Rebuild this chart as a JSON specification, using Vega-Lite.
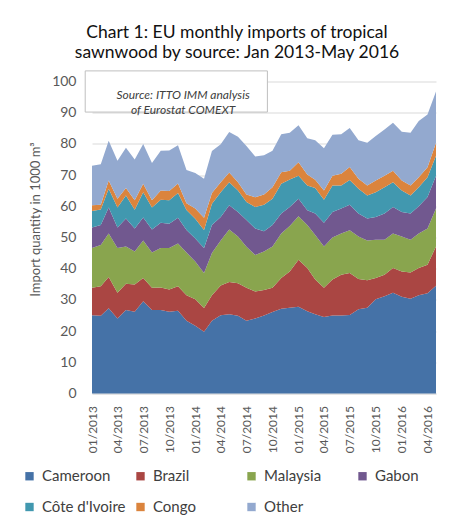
{
  "$schema": "https://vega.github.io/schema/vega-lite/v6.json",
  "width": 344,
  "height": 312,
  "autosize": {"type": "none"},
  "padding": {"left": 92, "top": 81.5, "right": 21, "bottom": 131.5},
  "background": "white",
  "title": {
    "text": ["Chart 1: EU monthly imports of tropical", "sawnwood by source: Jan 2013-May 2016"],
    "font": "Lato",
    "fontSize": 17.5,
    "fontWeight": "normal",
    "color": "#111111",
    "anchor": "middle",
    "dx": -27,
    "offset": 9,
    "lineHeight": 20
  },
  "datasets": {
    "series": [
      {"key": "Cameroon", "name": "Cameroon", "rank": 1},
      {"key": "Brazil", "name": "Brazil", "rank": 2},
      {"key": "Malaysia", "name": "Malaysia", "rank": 3},
      {"key": "Gabon", "name": "Gabon", "rank": 4},
      {"key": "CotedIvoire", "name": "Côte d'Ivoire", "rank": 5},
      {"key": "Congo", "name": "Congo", "rank": 6},
      {"key": "Other", "name": "Other", "rank": 7}
    ]
  },
  "layer": [
    {
      "data": {
        "values": [
          {"date": "2013-01-01", "Cameroon": 25.1, "Brazil": 8.8, "Malaysia": 12.7, "Gabon": 6.6, "CotedIvoire": 5.3, "Congo": 1.8, "Other": 12.7},
          {"date": "2013-02-01", "Cameroon": 24.9, "Brazil": 9.5, "Malaysia": 13.2, "Gabon": 6.4, "CotedIvoire": 5.0, "Congo": 1.5, "Other": 13.0},
          {"date": "2013-03-01", "Cameroon": 27.3, "Brazil": 10.0, "Malaysia": 14.0, "Gabon": 8.3, "CotedIvoire": 6.0, "Congo": 2.7, "Other": 12.7},
          {"date": "2013-04-01", "Cameroon": 24.0, "Brazil": 8.3, "Malaysia": 14.3, "Gabon": 6.6, "CotedIvoire": 6.4, "Congo": 2.8, "Other": 12.2},
          {"date": "2013-05-01", "Cameroon": 26.8, "Brazil": 8.4, "Malaysia": 11.9, "Gabon": 9.0, "CotedIvoire": 7.4, "Congo": 2.4, "Other": 12.9},
          {"date": "2013-06-01", "Cameroon": 26.2, "Brazil": 8.7, "Malaysia": 10.6, "Gabon": 7.4, "CotedIvoire": 6.0, "Congo": 3.0, "Other": 13.1},
          {"date": "2013-07-01", "Cameroon": 29.6, "Brazil": 7.4, "Malaysia": 12.0, "Gabon": 7.4, "CotedIvoire": 8.1, "Congo": 2.7, "Other": 12.8},
          {"date": "2013-08-01", "Cameroon": 26.8, "Brazil": 7.1, "Malaysia": 11.3, "Gabon": 7.4, "CotedIvoire": 7.0, "Congo": 2.3, "Other": 12.0},
          {"date": "2013-09-01", "Cameroon": 26.8, "Brazil": 7.2, "Malaysia": 12.6, "Gabon": 8.1, "CotedIvoire": 7.4, "Congo": 3.0, "Other": 12.7},
          {"date": "2013-10-01", "Cameroon": 26.2, "Brazil": 7.1, "Malaysia": 13.3, "Gabon": 7.8, "CotedIvoire": 7.5, "Congo": 3.0, "Other": 13.0},
          {"date": "2013-11-01", "Cameroon": 26.5, "Brazil": 7.9, "Malaysia": 13.7, "Gabon": 8.2, "CotedIvoire": 8.0, "Congo": 3.0, "Other": 12.3},
          {"date": "2013-12-01", "Cameroon": 23.3, "Brazil": 8.2, "Malaysia": 13.7, "Gabon": 7.2, "CotedIvoire": 6.4, "Congo": 2.2, "Other": 10.6},
          {"date": "2014-01-01", "Cameroon": 21.7, "Brazil": 8.5, "Malaysia": 12.1, "Gabon": 7.4, "CotedIvoire": 6.3, "Congo": 3.3, "Other": 11.4},
          {"date": "2014-02-01", "Cameroon": 19.8, "Brazil": 7.6, "Malaysia": 11.2, "Gabon": 8.0, "CotedIvoire": 5.8, "Congo": 3.9, "Other": 12.5},
          {"date": "2014-03-01", "Cameroon": 23.3, "Brazil": 8.2, "Malaysia": 13.5, "Gabon": 9.0, "CotedIvoire": 6.8, "Congo": 3.5, "Other": 13.4},
          {"date": "2014-04-01", "Cameroon": 25.1, "Brazil": 9.5, "Malaysia": 14.4, "Gabon": 7.6, "CotedIvoire": 7.9, "Congo": 3.2, "Other": 12.2},
          {"date": "2014-05-01", "Cameroon": 25.4, "Brazil": 10.3, "Malaysia": 16.9, "Gabon": 7.7, "CotedIvoire": 7.4, "Congo": 3.1, "Other": 13.0},
          {"date": "2014-06-01", "Cameroon": 24.9, "Brazil": 10.4, "Malaysia": 15.0, "Gabon": 7.9, "CotedIvoire": 6.9, "Congo": 2.6, "Other": 14.6},
          {"date": "2014-07-01", "Cameroon": 23.3, "Brazil": 10.6, "Malaysia": 13.1, "Gabon": 8.6, "CotedIvoire": 5.8, "Congo": 2.4, "Other": 15.5},
          {"date": "2014-08-01", "Cameroon": 24.0, "Brazil": 8.7, "Malaysia": 11.7, "Gabon": 8.5, "CotedIvoire": 6.9, "Congo": 3.1, "Other": 13.1},
          {"date": "2014-09-01", "Cameroon": 25.0, "Brazil": 8.2, "Malaysia": 12.3, "Gabon": 6.5, "CotedIvoire": 8.5, "Congo": 3.3, "Other": 12.6},
          {"date": "2014-10-01", "Cameroon": 26.1, "Brazil": 7.8, "Malaysia": 13.2, "Gabon": 6.9, "CotedIvoire": 8.4, "Congo": 3.7, "Other": 11.7},
          {"date": "2014-11-01", "Cameroon": 27.2, "Brazil": 9.8, "Malaysia": 14.3, "Gabon": 6.4, "CotedIvoire": 9.5, "Congo": 3.7, "Other": 12.2},
          {"date": "2014-12-01", "Cameroon": 27.5, "Brazil": 11.6, "Malaysia": 14.6, "Gabon": 6.1, "CotedIvoire": 8.8, "Congo": 2.8, "Other": 12.2},
          {"date": "2015-01-01", "Cameroon": 27.8, "Brazil": 15.1, "Malaysia": 13.9, "Gabon": 5.6, "CotedIvoire": 7.4, "Congo": 4.3, "Other": 11.9},
          {"date": "2015-02-01", "Cameroon": 26.4, "Brazil": 13.8, "Malaysia": 13.8, "Gabon": 4.7, "CotedIvoire": 8.0, "Congo": 3.5, "Other": 11.6},
          {"date": "2015-03-01", "Cameroon": 25.4, "Brazil": 11.1, "Malaysia": 14.3, "Gabon": 6.9, "CotedIvoire": 8.2, "Congo": 2.6, "Other": 12.7},
          {"date": "2015-04-01", "Cameroon": 24.5, "Brazil": 9.4, "Malaysia": 13.2, "Gabon": 7.6, "CotedIvoire": 7.4, "Congo": 3.0, "Other": 13.5},
          {"date": "2015-05-01", "Cameroon": 25.0, "Brazil": 11.5, "Malaysia": 13.5, "Gabon": 8.2, "CotedIvoire": 8.5, "Congo": 3.1, "Other": 13.1},
          {"date": "2015-06-01", "Cameroon": 25.0, "Brazil": 13.1, "Malaysia": 13.2, "Gabon": 8.0, "CotedIvoire": 7.4, "Congo": 3.7, "Other": 12.7},
          {"date": "2015-07-01", "Cameroon": 25.2, "Brazil": 13.4, "Malaysia": 13.7, "Gabon": 8.2, "CotedIvoire": 7.9, "Congo": 4.2, "Other": 12.5},
          {"date": "2015-08-01", "Cameroon": 27.0, "Brazil": 9.7, "Malaysia": 13.6, "Gabon": 7.4, "CotedIvoire": 7.9, "Congo": 3.2, "Other": 12.4},
          {"date": "2015-09-01", "Cameroon": 27.5, "Brazil": 8.8, "Malaysia": 12.7, "Gabon": 7.1, "CotedIvoire": 7.4, "Congo": 3.2, "Other": 13.7},
          {"date": "2015-10-01", "Cameroon": 30.2, "Brazil": 6.8, "Malaysia": 12.3, "Gabon": 7.3, "CotedIvoire": 7.9, "Congo": 3.8, "Other": 14.2},
          {"date": "2015-11-01", "Cameroon": 31.2, "Brazil": 6.9, "Malaysia": 11.2, "Gabon": 8.4, "CotedIvoire": 8.4, "Congo": 3.7, "Other": 14.8},
          {"date": "2015-12-01", "Cameroon": 32.3, "Brazil": 7.9, "Malaysia": 11.1, "Gabon": 8.5, "CotedIvoire": 7.9, "Congo": 3.7, "Other": 15.4},
          {"date": "2016-01-01", "Cameroon": 31.0, "Brazil": 8.1, "Malaysia": 11.2, "Gabon": 7.9, "CotedIvoire": 6.9, "Congo": 3.2, "Other": 15.6},
          {"date": "2016-02-01", "Cameroon": 30.4, "Brazil": 8.4, "Malaysia": 10.5, "Gabon": 8.4, "CotedIvoire": 5.8, "Congo": 3.2, "Other": 16.9},
          {"date": "2016-03-01", "Cameroon": 31.5, "Brazil": 8.7, "Malaysia": 11.1, "Gabon": 8.7, "CotedIvoire": 6.1, "Congo": 3.2, "Other": 18.0},
          {"date": "2016-04-01", "Cameroon": 32.1, "Brazil": 9.2, "Malaysia": 11.6, "Gabon": 10.1, "CotedIvoire": 6.3, "Congo": 3.2, "Other": 16.9},
          {"date": "2016-05-01", "Cameroon": 34.5, "Brazil": 12.6, "Malaysia": 12.2, "Gabon": 10.5, "CotedIvoire": 6.4, "Congo": 4.2, "Other": 16.4}
        ]
      },
      "transform": [
        {"fold": ["Cameroon", "Brazil", "Malaysia", "Gabon", "CotedIvoire", "Congo", "Other"], "as": ["key", "value"]},
        {"lookup": "key", "from": {"data": {"name": "series"}, "key": "key", "fields": ["name", "rank"]}}
      ],
      "mark": {"type": "area", "interpolate": "linear"},
      "encoding": {
        "x": {
          "field": "date",
          "type": "temporal",
          "scale": {
            "type": "utc",
            "nice": false,
            "domain": [
              {"year": 2013, "month": 1, "date": 1, "utc": true},
              {"year": 2016, "month": 5, "date": 1, "utc": true}
            ]
          },
          "axis": {
            "title": null,
            "grid": false,
            "ticks": false,
            "domain": true,
            "domainColor": "#d9d9d9",
            "tickCount": 60,
            "values": [
              {"year": 2013, "month": 1, "date": 1, "utc": true},
              {"year": 2013, "month": 4, "date": 1, "utc": true},
              {"year": 2013, "month": 7, "date": 1, "utc": true},
              {"year": 2013, "month": 10, "date": 1, "utc": true},
              {"year": 2014, "month": 1, "date": 1, "utc": true},
              {"year": 2014, "month": 4, "date": 1, "utc": true},
              {"year": 2014, "month": 7, "date": 1, "utc": true},
              {"year": 2014, "month": 10, "date": 1, "utc": true},
              {"year": 2015, "month": 1, "date": 1, "utc": true},
              {"year": 2015, "month": 4, "date": 1, "utc": true},
              {"year": 2015, "month": 7, "date": 1, "utc": true},
              {"year": 2015, "month": 10, "date": 1, "utc": true},
              {"year": 2016, "month": 1, "date": 1, "utc": true},
              {"year": 2016, "month": 4, "date": 1, "utc": true}
            ],
            "labelExpr": "utcFormat(datum.value, '%m/%Y')",
            "labelAngle": 270,
            "labelAlign": "right",
            "labelBaseline": "middle",
            "labelFont": "Lato",
            "labelFontSize": 12,
            "labelColor": "#595959",
            "labelPadding": 12,
            "labelOverlap": false,
            "labelFlush": false,
            "labelBound": false
          }
        },
        "y": {
          "field": "value",
          "type": "quantitative",
          "stack": "zero",
          "scale": {"domain": [0, 100], "nice": false},
          "axis": {
            "title": "Import quantity in 1000 m³",
            "titleFont": "Lato",
            "titleFontSize": 13,
            "titleFontWeight": "normal",
            "titleColor": "#595959",
            "titleX": -57,
            "titleY": 137.5,
            "titleAngle": 270,
            "titleAlign": "center",
            "titleBaseline": "middle",
            "tickCount": 10,
            "grid": true,
            "gridColor": "#d9d9d9",
            "ticks": false,
            "domain": false,
            "labelOverlap": false,
            "labelFlush": false,
            "labelBound": false,
            "labelFont": "Lato",
            "labelFontSize": 14,
            "labelColor": "#595959",
            "labelPadding": 16
          }
        },
        "color": {
          "field": "name",
          "type": "nominal",
          "scale": {
            "domain": ["Cameroon", "Brazil", "Malaysia", "Gabon", "Côte d'Ivoire", "Congo", "Other"],
            "range": ["#4572A7", "#AA4643", "#89A54E", "#71588F", "#4198AF", "#DB843D", "#93A9CF"]
          },
          "legend": {
            "title": null,
            "orient": "none",
            "legendX": -70,
            "legendY": 387,
            "direction": "horizontal",
            "columns": 4,
            "gridAlign": "all",
            "columnPadding": 7,
            "rowPadding": 15,
            "symbolType": "square",
            "symbolSize": 70,
            "symbolStrokeWidth": 0,
            "labelFont": "Lato",
            "labelFontSize": 15,
            "labelColor": "#404040",
            "labelOffset": 5,
            "labelLimit": 0
          }
        },
        "order": {"field": "rank", "type": "quantitative"}
      }
    },
    {
      "data": {"values": [{}]},
      "mark": {"type": "rect", "fill": "white", "stroke": "#bfbfbf", "strokeWidth": 1},
      "encoding": {
        "x": {
          "datum": {"year": 2012, "month": 12, "date": 8, "utc": true},
          "type": "temporal",
          "axis": {
            "title": null,
            "grid": false,
            "ticks": false,
            "domain": true,
            "domainColor": "#d9d9d9",
            "tickCount": 60,
            "values": [
              {"year": 2013, "month": 1, "date": 1, "utc": true},
              {"year": 2013, "month": 4, "date": 1, "utc": true},
              {"year": 2013, "month": 7, "date": 1, "utc": true},
              {"year": 2013, "month": 10, "date": 1, "utc": true},
              {"year": 2014, "month": 1, "date": 1, "utc": true},
              {"year": 2014, "month": 4, "date": 1, "utc": true},
              {"year": 2014, "month": 7, "date": 1, "utc": true},
              {"year": 2014, "month": 10, "date": 1, "utc": true},
              {"year": 2015, "month": 1, "date": 1, "utc": true},
              {"year": 2015, "month": 4, "date": 1, "utc": true},
              {"year": 2015, "month": 7, "date": 1, "utc": true},
              {"year": 2015, "month": 10, "date": 1, "utc": true},
              {"year": 2016, "month": 1, "date": 1, "utc": true},
              {"year": 2016, "month": 4, "date": 1, "utc": true}
            ],
            "labelExpr": "utcFormat(datum.value, '%m/%Y')",
            "labelAngle": 270,
            "labelAlign": "right",
            "labelBaseline": "middle",
            "labelFont": "Lato",
            "labelFontSize": 12,
            "labelColor": "#595959",
            "labelPadding": 12,
            "labelOverlap": false,
            "labelFlush": false,
            "labelBound": false
          }
        },
        "x2": {"datum": {"year": 2014, "month": 9, "date": 13, "utc": true}},
        "y": {"datum": 103.4, "type": "quantitative"},
        "y2": {"datum": 90.2}
      }
    },
    {
      "data": {"values": [{"label": "Source: ITTO IMM analysis\nof Eurostat COMEXT"}]},
      "mark": {"type": "text", "lineBreak": "\n", "font": "Lato", "fontStyle": "italic", "fontSize": 12, "color": "#404040", "lineHeight": 15, "align": "center", "baseline": "middle"},
      "encoding": {
        "x": {
          "datum": {"year": 2013, "month": 11, "date": 19, "utc": true},
          "type": "temporal",
          "axis": {
            "title": null,
            "grid": false,
            "ticks": false,
            "domain": true,
            "domainColor": "#d9d9d9",
            "tickCount": 60,
            "values": [
              {"year": 2013, "month": 1, "date": 1, "utc": true},
              {"year": 2013, "month": 4, "date": 1, "utc": true},
              {"year": 2013, "month": 7, "date": 1, "utc": true},
              {"year": 2013, "month": 10, "date": 1, "utc": true},
              {"year": 2014, "month": 1, "date": 1, "utc": true},
              {"year": 2014, "month": 4, "date": 1, "utc": true},
              {"year": 2014, "month": 7, "date": 1, "utc": true},
              {"year": 2014, "month": 10, "date": 1, "utc": true},
              {"year": 2015, "month": 1, "date": 1, "utc": true},
              {"year": 2015, "month": 4, "date": 1, "utc": true},
              {"year": 2015, "month": 7, "date": 1, "utc": true},
              {"year": 2015, "month": 10, "date": 1, "utc": true},
              {"year": 2016, "month": 1, "date": 1, "utc": true},
              {"year": 2016, "month": 4, "date": 1, "utc": true}
            ],
            "labelExpr": "utcFormat(datum.value, '%m/%Y')",
            "labelAngle": 270,
            "labelAlign": "right",
            "labelBaseline": "middle",
            "labelFont": "Lato",
            "labelFontSize": 12,
            "labelColor": "#595959",
            "labelPadding": 12,
            "labelOverlap": false,
            "labelFlush": false,
            "labelBound": false
          }
        },
        "y": {"datum": 95.8, "type": "quantitative"},
        "text": {"field": "label", "type": "nominal"}
      }
    }
  ],
  "config": {
    "view": {"stroke": null},
    "axis": {"labelOverlap": false, "labelSeparation": 0}
  }
}
